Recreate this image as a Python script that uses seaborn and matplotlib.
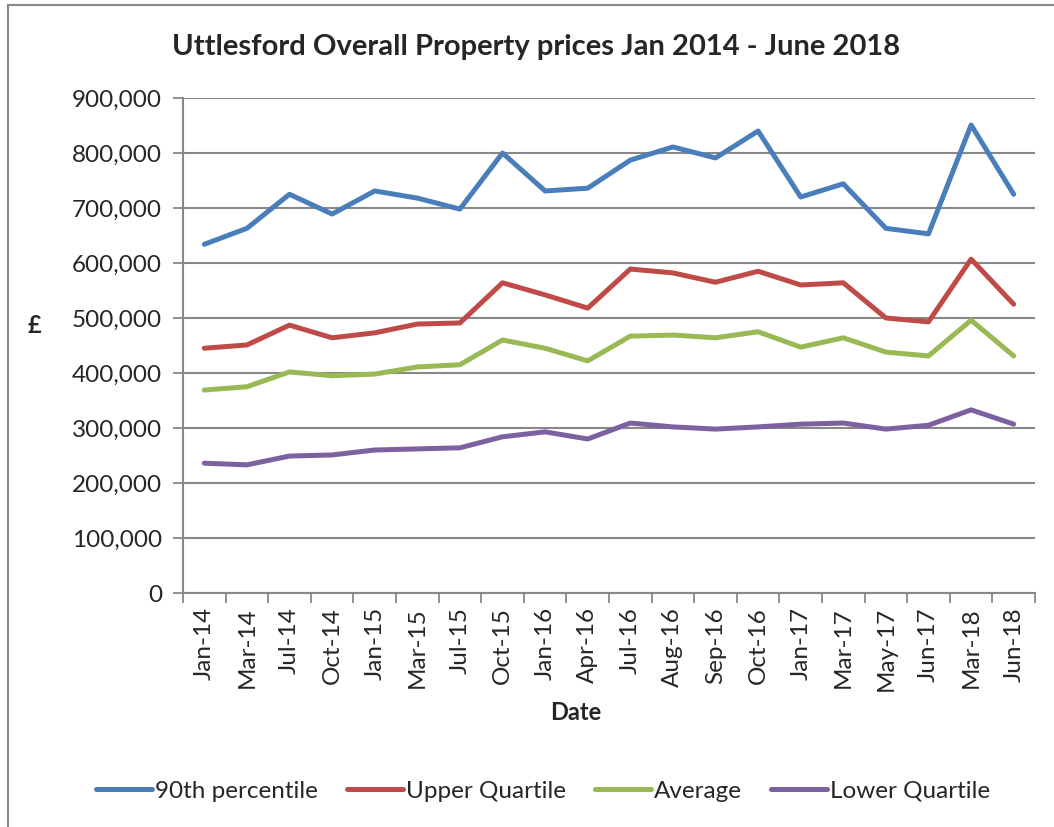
import pandas as pd
import seaborn as sns
import matplotlib.pyplot as plt
from matplotlib.lines import Line2D
from matplotlib.ticker import FuncFormatter, FixedLocator

# data
dates = ['Jan-14', 'Mar-14', 'Jul-14', 'Oct-14', 'Jan-15', 'Mar-15', 'Jul-15',
         'Oct-15', 'Jan-16', 'Apr-16', 'Jul-16', 'Aug-16', 'Sep-16', 'Oct-16',
         'Jan-17', 'Mar-17', 'May-17', 'Jun-17', 'Mar-18', 'Jun-18']
p90 = [634000, 663000, 725000, 689000, 731000, 718000, 698000, 800000, 731000, 736000,
       787000, 811000, 791000, 840000, 720000, 744000, 663000, 653000, 851000, 725000]
upper_q = [445000, 451000, 487000, 464000, 473000, 489000, 491000, 564000, 542000, 518000,
           589000, 582000, 565000, 585000, 560000, 564000, 500000, 493000, 607000, 525000]
average = [369000, 375000, 402000, 395000, 398000, 411000, 415000, 460000, 445000, 422000,
           467000, 469000, 464000, 475000, 447000, 464000, 438000, 431000, 496000, 431000]
lower_q = [236000, 233000, 249000, 251000, 260000, 262000, 264000, 284000, 293000, 280000,
           309000, 302000, 298000, 302000, 307000, 309000, 298000, 305000, 333000, 307000]

series = {'90th percentile': p90, 'Upper Quartile': upper_q,
          'Average': average, 'Lower Quartile': lower_q}
colours = ['#4A7EBB', '#BE4B48', '#98B954', '#7D60A0']

#build a long table for seaborn
rows = []
for name, vals in series.items():
    for i, v in enumerate(vals):
        rows.append({'idx': i, 'Date': dates[i], 'price': v, 'series': name})
df = pd.DataFrame(rows)

sns.set_style('white')
plt.rcParams['font.family'] = ['Lato', 'DejaVu Sans']

fig = plt.figure(figsize=(10.54, 8.27), dpi=100)
ax = fig.add_axes([183/1054, 1 - 593/827, (1035 - 183)/1054, (593 - 98)/827])

sns.lineplot(data=df, x='idx', y='price', hue='series', palette=colours,
             linewidth=3.6, legend=False, ax=ax)

grey = '#888888'
ax.set_ylim(0, 900000)
ax.set_xlim(-0.5, len(dates) - 0.5)
ax.set_yticks(range(0, 900001, 100000))
ax.yaxis.set_major_formatter(FuncFormatter(lambda v, p: f'{int(v):,}'))
ax.grid(axis='y', color=grey, linewidth=1.5)
ax.set_axisbelow(True)

ax.set_xticks(range(len(dates)))
ax.set_xticklabels(dates, rotation=90)
ax.xaxis.set_minor_locator(FixedLocator([i - 0.5 for i in range(len(dates) + 1)]))
ax.tick_params(axis='x', which='major', length=0, pad=10, labelsize=17.5)
ax.tick_params(axis='x', which='minor', length=7, width=1.3, color=grey, direction='out')
ax.tick_params(axis='y', length=7, width=1.3, color=grey, direction='out', labelsize=17.5, pad=8)
ax.tick_params(bottom=True, left=True, which='both')

for s in ['top', 'right']:
    ax.spines[s].set_visible(False)
for s in ['left', 'bottom']:
    ax.spines[s].set_color(grey)
    ax.spines[s].set_linewidth(1.5)

ax.set_xlabel('')
ax.set_ylabel('')
fig.text(576/1054, 1 - 712/827, 'Date', fontsize=17, fontweight='bold', ha='center', va='center')
fig.text(35/1054, 1 - 325/827, '£', fontsize=17, fontweight='bold', ha='center', va='center')
fig.text(536/1054, 1 - 47/827, 'Uttlesford Overall Property prices Jan 2014 - June 2018',
         fontsize=21, fontweight='bold', ha='center', va='center')

# legend under the chart
handles = [Line2D([0], [0], color=c, linewidth=3.6) for c in colours]
fig.legend(handles, list(series.keys()), loc='center', bbox_to_anchor=(543/1054, 1 - 791/827),
           ncol=4, frameon=False, fontsize=17.5, handlelength=2.3, handletextpad=0.12,
           columnspacing=1.2)

# the border around the figure box
fig.add_artist(Line2D([8/1054, 1], [1 - 5/827, 1 - 5/827], color=grey, linewidth=1.5,
                      transform=fig.transFigure))
fig.add_artist(Line2D([8/1054, 8/1054], [0, 1 - 5/827], color=grey, linewidth=1.5,
                      transform=fig.transFigure))

fig.savefig('out.png', dpi=100)
